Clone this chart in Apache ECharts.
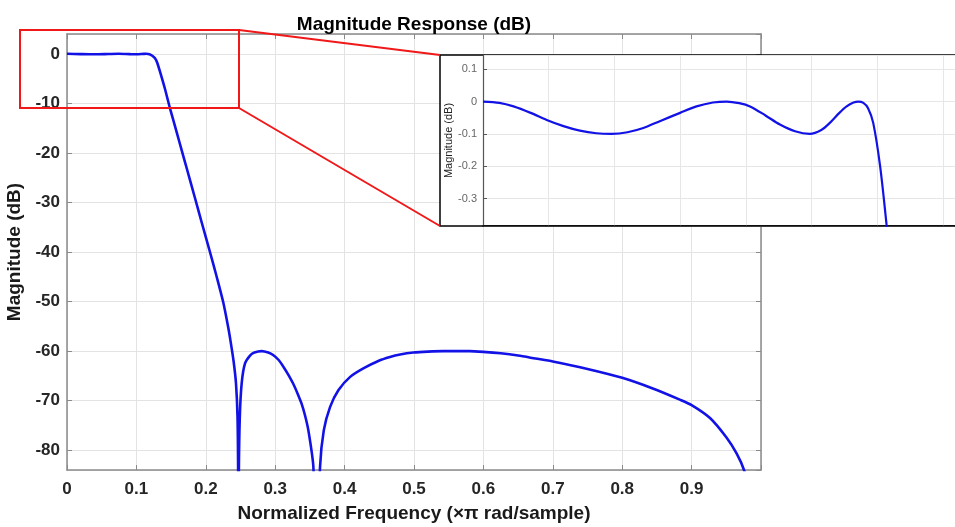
<!DOCTYPE html>
<html><head><meta charset="utf-8">
<script src="https://cdn.jsdelivr.net/npm/echarts@6/dist/echarts.min.js"></script>
<style>html,body{margin:0;padding:0;background:#fff}#c{width:955px;height:527px}</style>
</head><body><div id="c"></div>
<script>
const titleText = 'Magnitude Response (dB)';
const xName = 'Normalized Frequency (\u00d7\u03c0 rad/sample)';
const yName = 'Magnitude (dB)';

// main response (normalized frequency, dB)
const mainFreq = [0, 0.0195, 0.0392, 0.06, 0.0742, 0.0904, 0.0995, 0.1107, 0.1143, 0.1188, 0.1229, 0.1268, 0.130, 0.134, 0.141, 0.1484, 0.158, 0.1653, 0.1725, 0.1844, 0.194, 0.206, 0.2157, 0.2252, 0.2324, 0.236, 0.240, 0.2435, 0.2457, 0.2466, 0.247, 0.2476, 0.249, 0.2517, 0.2565, 0.2637, 0.27, 0.2805, 0.29, 0.297, 0.305, 0.312, 0.319, 0.326, 0.332, 0.338, 0.343, 0.3478, 0.355, 0.3595, 0.3646, 0.370, 0.379, 0.391, 0.408, 0.427, 0.4486, 0.4654, 0.48, 0.499, 0.52, 0.542, 0.58, 0.60, 0.625, 0.65, 0.675, 0.70, 0.75, 0.80, 0.845, 0.883, 0.90, 0.9265, 0.95, 0.965, 0.9755, 0.985, 0.995];
const mainMag = [0, -0.06, -0.1, -0.04, 0, -0.07, -0.1, -0.02, 0, -0.07, -0.39, -0.9, -1.8, -3.6, -7.0, -11, -15.8, -19.5, -23.1, -29.1, -34.0, -40, -45.0, -50.2, -55.3, -58.3, -62, -66.5, -73.3, -85, -110, -85, -73.3, -66.5, -62.5, -60.9, -60.3, -60, -60.3, -60.8, -61.8, -63.2, -64.8, -66.6, -68.5, -70.6, -73, -76, -83.4, -110, -83.4, -76, -71.3, -67.9, -65.2, -63.5, -62, -61.2, -60.7, -60.3, -60.1, -60, -60, -60.15, -60.45, -60.9, -61.5, -62.1, -63.6, -65.4, -67.6, -69.8, -70.9, -73.5, -77.4, -80.7, -84, -89, -100];

// zoomed passband (inset)
const insetFreq = [0, 0.005, 0.0093, 0.0145, 0.0194, 0.0245, 0.0295, 0.0345, 0.0392, 0.044, 0.0488, 0.054, 0.06, 0.065, 0.07, 0.0742, 0.078, 0.0813, 0.086, 0.0904, 0.095, 0.0995, 0.103, 0.1056, 0.1085, 0.1107, 0.1128, 0.1143, 0.1158, 0.1172, 0.1188, 0.1209, 0.1229, 0.125];
const insetMag = [0, -0.004, -0.015, -0.035, -0.057, -0.076, -0.09, -0.098, -0.1, -0.095, -0.082, -0.06, -0.035, -0.015, -0.003, 0, -0.005, -0.015, -0.043, -0.071, -0.092, -0.1, -0.088, -0.066, -0.035, -0.015, -0.003, 0, -0.004, -0.02, -0.066, -0.2, -0.385, -0.6];

const FONT = '"Liberation Sans", Arial, Helvetica, sans-serif';
const zip = (a, b) => a.map((v, i) => [v, b[i]]);

const chart = echarts.init(document.getElementById('c'), null, {renderer: 'canvas'});
const gridGray = '#e3e3e3';
const axisGray = '#8a8a8a';

chart.setOption({
  animation: false,
  backgroundColor: '#fff',
  title: {
    text: titleText, left: 409, top: 10, textAlign: 'center',
    textStyle: {fontFamily: FONT, fontSize: 19, fontWeight: 'bold', color: '#000'}
  },
  grid: [
    {left: 67, top: 34, width: 694, height: 436, containLabel: false, outerBoundsMode: 'none'},
    {left: 483, top: 55, right: 0, height: 171, containLabel: false, outerBoundsMode: 'none'}
  ],
  xAxis: [
    {type: 'value', gridIndex: 0, min: 0, max: 1, interval: 0.1, position: 'bottom',
     name: xName, nameLocation: 'middle', nameGap: 34,
     nameTextStyle: {fontFamily: FONT, fontSize: 19, fontWeight: 'bold', color: '#1a1a1a'},
     axisLine: {show: true, onZero: false, lineStyle: {color: axisGray, width: 1.5}},
     axisTick: {show: true, inside: true, length: 5, lineStyle: {color: axisGray}},
     axisLabel: {margin: 11, fontFamily: FONT, fontSize: 17, fontWeight: 'bold', color: '#262626',
       formatter: v => v > 0.95 ? '' : String(Math.round(v * 10) / 10)},
     splitLine: {show: true, lineStyle: {color: gridGray, width: 1}}},
    {type: 'value', gridIndex: 0, min: 0, max: 1, interval: 0.1, position: 'top',
     axisLine: {show: true, onZero: false, lineStyle: {color: axisGray, width: 1.5}},
     axisTick: {show: true, inside: true, length: 5, lineStyle: {color: axisGray}},
     axisLabel: {show: false}, splitLine: {show: false}},
    {type: 'value', gridIndex: 1, min: 0, max: 0.1437, interval: 0.02, position: 'bottom', z: 15,
     axisLine: {show: true, onZero: false, lineStyle: {color: '#000', width: 1.5}},
     axisTick: {show: false}, axisLabel: {show: false},
     splitLine: {show: true, lineStyle: {color: '#e6e6e6', width: 1}}}
  ],
  yAxis: [
    {type: 'value', gridIndex: 0, min: -84, max: 4, splitNumber: 9, position: 'left',
     name: yName, nameLocation: 'middle', nameGap: 38,
     nameTextStyle: {fontFamily: FONT, fontSize: 19, fontWeight: 'bold', color: '#1a1a1a'},
     axisLine: {show: true, onZero: false, lineStyle: {color: axisGray, width: 1.5}},
     axisTick: {show: true, inside: true, length: 5, lineStyle: {color: axisGray}},
     axisLabel: {margin: 7, showMinLabel: false, showMaxLabel: false, fontFamily: FONT, fontSize: 17, fontWeight: 'bold', color: '#262626'},
     splitLine: {show: true, lineStyle: {color: gridGray, width: 1}}},
    {type: 'value', gridIndex: 0, min: -84, max: 4, splitNumber: 9, position: 'right',
     axisLine: {show: true, onZero: false, lineStyle: {color: axisGray, width: 1.5}},
     axisTick: {show: true, inside: true, length: 5, lineStyle: {color: axisGray}},
     axisLabel: {show: false}, splitLine: {show: false}},
    {type: 'value', gridIndex: 1, min: -0.385, max: 0.144, splitNumber: 5, position: 'left', z: 15,
     name: yName, nameLocation: 'middle', nameGap: 22,
     nameTextStyle: {fontFamily: FONT, fontSize: 11, color: '#222'},
     axisLine: {show: true, onZero: false, lineStyle: {color: '#555', width: 1.2}},
     axisTick: {show: true, inside: true, length: 4, lineStyle: {color: '#555'}},
     axisLabel: {margin: 6, showMinLabel: false, showMaxLabel: false, fontFamily: FONT, fontSize: 11, color: '#666'},
     splitLine: {show: true, lineStyle: {color: '#e6e6e6', width: 1}}}
  ],
  graphic: [
    {type: 'rect', z: 10, shape: {x: 440, y: 55, width: 540, height: 171},
     style: {fill: '#fff', stroke: '#000', lineWidth: 1.5}},
    {type: 'rect', z: 12, shape: {x: 20, y: 30, width: 219, height: 78},
     style: {fill: 'none', stroke: '#f01818', lineWidth: 2}},
    {type: 'line', z: 12, shape: {x1: 239, y1: 30, x2: 440, y2: 55},
     style: {stroke: '#f01818', lineWidth: 2}},
    {type: 'line', z: 12, shape: {x1: 239, y1: 108, x2: 440, y2: 226},
     style: {stroke: '#f01818', lineWidth: 2}}
  ],
  series: [
    {type: 'line', xAxisIndex: 0, yAxisIndex: 0, z: 2, data: zip(mainFreq, mainMag),
     showSymbol: false, smooth: 0.25, clip: true,
     lineStyle: {color: '#1212e6', width: 2.6}},
    {type: 'line', xAxisIndex: 2, yAxisIndex: 2, z: 20, data: zip(insetFreq, insetMag),
     showSymbol: false, smooth: 0.3, clip: true,
     lineStyle: {color: '#1212e6', width: 2.2}}
  ]
});
</script>
</body></html>
